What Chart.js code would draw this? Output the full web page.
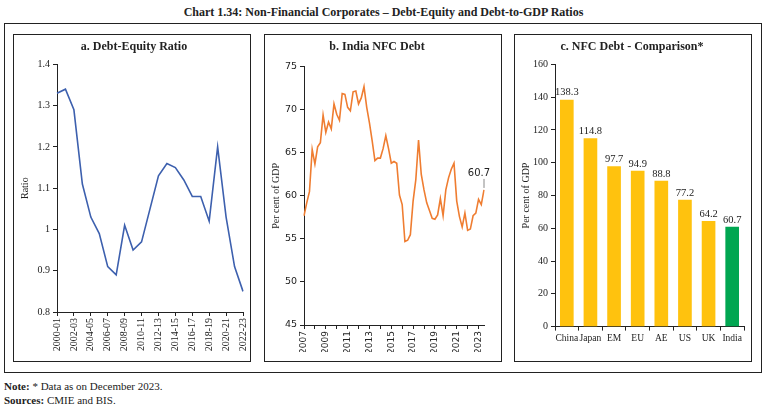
<!DOCTYPE html>
<html>
<head>
<meta charset="utf-8">
<script src="https://cdn.jsdelivr.net/npm/chart.js@4.4.0/dist/chart.umd.min.js"></script>
<style>
    body { margin: 0; background: #fff; font-family: 'Liberation Serif', serif; color: #222; }
    #page { position: relative; width: 767px; height: 409px; }
    #title { position: absolute; top: 5px; left: 0; width: 767px; text-align: center; font-size: 12px; font-weight: bold; }
    #outer { position: absolute; left: 4px; top: 23px; width: 758px; height: 350px; border: 1.5px solid #222; box-sizing: border-box; }
    .panel { position: absolute; top: 34px; width: 238px; height: 328px; border: 1.5px solid #222; box-sizing: border-box; }
    .note { position: absolute; left: 4px; font-size: 11px; }
</style>
</head>
<body>
<div id="page">
    <div id="title">Chart 1.34: Non-Financial Corporates – Debt-Equity and Debt-to-GDP Ratios</div>
    <div id="outer"></div>
    <div class="panel" style="left:13px"><canvas id="chartA" width="235" height="325"></canvas></div>
    <div class="panel" style="left:264px"><canvas id="chartB" width="235" height="325"></canvas></div>
    <div class="panel" style="left:514px"><canvas id="chartC" width="235" height="325"></canvas></div>
    <div class="note" style="top:380px"><b>Note:</b> * Data as on December 2023.</div>
    <div class="note" style="top:394px"><b>Sources:</b> CMIE and BIS.</div>
</div>
<script>
    // a. debt-equity ratio, annual
    var deYears = ['2000-01','2001-02','2002-03','2003-04','2004-05','2005-06','2006-07','2007-08',
        '2008-09','2009-10','2010-11','2011-12','2012-13','2013-14','2014-15','2015-16','2016-17',
        '2017-18','2018-19','2019-20','2020-21','2021-22','2022-23'];
    var deRatio = [1.33,1.34,1.29,1.11,1.03,0.99,0.91,0.89,1.01,0.95,0.97,1.05,1.13,1.16,1.15,
        1.12,1.08,1.08,1.02,1.20,1.03,0.91,0.85];

    // b. India NFC debt, per cent of GDP, quarterly from 2007 Q1
    var nfcDebt = [57.7,59.2,60.5,65.4,63.7,65.7,66.2,69.4,67.4,68.6,
        67.8,70.7,69.5,68.8,71.9,71.8,70.3,69.9,72.1,72.2,
        70.7,71.4,72.7,70.3,68.5,66.4,64.1,64.4,64.4,65.5,
        67.0,65.5,63.8,64.0,63.8,60.1,59.0,54.7,54.85,55.5,
        59.4,61.9,66.5,62.5,60.7,59.2,58.3,57.4,57.3,57.8,
        59.7,57.7,60.7,62.1,63.1,63.8,59.4,57.6,56.4,58.0,
        56.0,56.15,57.7,58.0,59.6,59.0,60.7];
    var quarters = [];
    for (var yr = 2007; quarters.length < nfcDebt.length; yr++) {
        for (var q = 1; q <= 4 && quarters.length < nfcDebt.length; q++) quarters.push(yr + 'Q' + q);
    }

    // c. comparison
    var countries = ['China','Japan','EM','EU','AE','US','UK','India'];
    var compValues = [138.3,114.8,97.7,94.9,88.8,77.2,64.2,60.7];

    Chart.defaults.font.family = "'Liberation Serif', serif";
    Chart.defaults.color = '#222';

    var ink = '#222';
    var sans = "'DejaVu Sans', sans-serif";

    function panelTitle(text, below) {
        return {display: true, text: text, color: ink, font: {size: 12, weight: 'bold'}, padding: {top: 5, bottom: below}};
    }
    function gridStyle() {
        return {drawOnChartArea: false, color: ink, tickLength: 4};
    }

    // end label with leader line for panel b
    var endLabel = {
        id: 'endLabel',
        afterDatasetsDraw: function(chart) {
            var pts = chart.getDatasetMeta(0).data;
            var p = pts[pts.length - 1];
            var ctx = chart.ctx;
            ctx.save();
            ctx.strokeStyle = '#888';
            ctx.lineWidth = 1;
            ctx.beginPath();
            ctx.moveTo(p.x, p.y - 2);
            ctx.lineTo(p.x, p.y - 11);
            ctx.stroke();
            ctx.fillStyle = ink;
            ctx.font = '10px ' + sans;
            ctx.textAlign = 'center';
            ctx.textBaseline = 'bottom';
            ctx.fillText(nfcDebt[nfcDebt.length - 1].toFixed(1), p.x - 5, p.y - 12);
            ctx.restore();
        }
    };

    // value labels on top of the bars in panel c
    var barValues = {
        id: 'barValues',
        afterDatasetsDraw: function(chart) {
            var ctx = chart.ctx;
            ctx.save();
            ctx.fillStyle = ink;
            ctx.font = "10.5px 'Liberation Serif', serif";
            ctx.textAlign = 'center';
            ctx.textBaseline = 'bottom';
            chart.getDatasetMeta(0).data.forEach(function(b, i) {
                ctx.fillText(compValues[i].toFixed(1), b.x, b.y - 2);
            });
            ctx.restore();
        }
    };

    new Chart(document.getElementById('chartA'), {
        type: 'line',
        data: {
            labels: deYears,
            datasets: [{data: deRatio, borderColor: '#3d60ae', borderWidth: 1.6, pointRadius: 0, tension: 0}]
        },
        options: {
            responsive: false, animation: false,
            layout: {padding: {left: 5, right: 0, bottom: 6}},
            plugins: {legend: {display: false}, tooltip: {enabled: false}, title: panelTitle('a. Debt-Equity Ratio', 10)},
            scales: {
                x: {
                    offset: false, grid: gridStyle(), border: {color: ink},
                    ticks: {autoSkip: false, maxRotation: 90, minRotation: 90, font: {size: 10}, color: ink, padding: 2},
                    afterBuildTicks: function(s) { s.ticks = s.ticks.filter(function(t) { return t.value % 2 === 0; }); },
                    afterFit: function(s) { s.height = 42; s.paddingRight = 6; }
                },
                y: {
                    min: 0.8, max: 1.4, grid: gridStyle(), border: {color: ink},
                    ticks: {stepSize: 0.1, font: {size: 10}, color: ink, callback: function(v) { return String(+v.toFixed(1)); }},
                    title: {display: true, text: 'Ratio', font: {size: 10}, color: ink, padding: 0},
                    afterFit: function(s) { s.width = 38; }
                }
            }
        }
    });

    new Chart(document.getElementById('chartB'), {
        type: 'line',
        data: {
            labels: quarters,
            datasets: [{data: nfcDebt, borderColor: '#ef7d31', borderWidth: 1.6, pointRadius: 0, tension: 0}]
        },
        options: {
            responsive: false, animation: false,
            layout: {padding: {left: 5, right: 16, bottom: 8}},
            plugins: {legend: {display: false}, tooltip: {enabled: false}, title: panelTitle('b. India NFC Debt', 12.5)},
            scales: {
                x: {
                    offset: false, grid: gridStyle(), border: {color: ink},
                    ticks: {autoSkip: false, maxRotation: 90, minRotation: 90, font: {size: 9, family: sans}, color: ink, padding: 2,
                        callback: function(v) { return v % 8 === 0 ? quarters[v].slice(0, 4) : ''; }},
                    afterBuildTicks: function(s) { s.ticks = s.ticks.filter(function(t) { return t.value % 4 === 0; }); },
                    afterFit: function(s) { s.height = 27; }
                },
                y: {
                    min: 45, max: 75, grid: gridStyle(), border: {color: ink},
                    ticks: {stepSize: 5, font: {size: 9.5, family: sans}, color: ink},
                    title: {display: true, text: 'Per cent of GDP', font: {size: 10}, color: ink, padding: 0},
                    afterFit: function(s) { s.width = 34; }
                }
            }
        },
        plugins: [endLabel]
    });

    new Chart(document.getElementById('chartC'), {
        type: 'bar',
        data: {
            labels: countries,
            datasets: [{
                data: compValues,
                backgroundColor: countries.map(function(c) { return c === 'India' ? '#00a651' : '#ffc20e'; }),
                barThickness: 13
            }]
        },
        options: {
            responsive: false, animation: false,
            layout: {padding: {left: 5, right: 6, bottom: 14}},
            plugins: {legend: {display: false}, tooltip: {enabled: false}, title: panelTitle('c. NFC Debt - Comparison*', 10)},
            scales: {
                x: {
                    grid: gridStyle(), border: {color: ink},
                    ticks: {autoSkip: false, maxRotation: 0, font: {size: 9.5}, color: ink, padding: 2}
                },
                y: {
                    min: 0, max: 160, grid: gridStyle(), border: {color: ink},
                    ticks: {stepSize: 20, font: {size: 10}, color: ink},
                    title: {display: true, text: 'Per cent of GDP', font: {size: 10}, color: ink, padding: 0},
                    afterFit: function(s) { s.width = 35; }
                }
            }
        },
        plugins: [barValues]
    });
</script>
</body>
</html>
